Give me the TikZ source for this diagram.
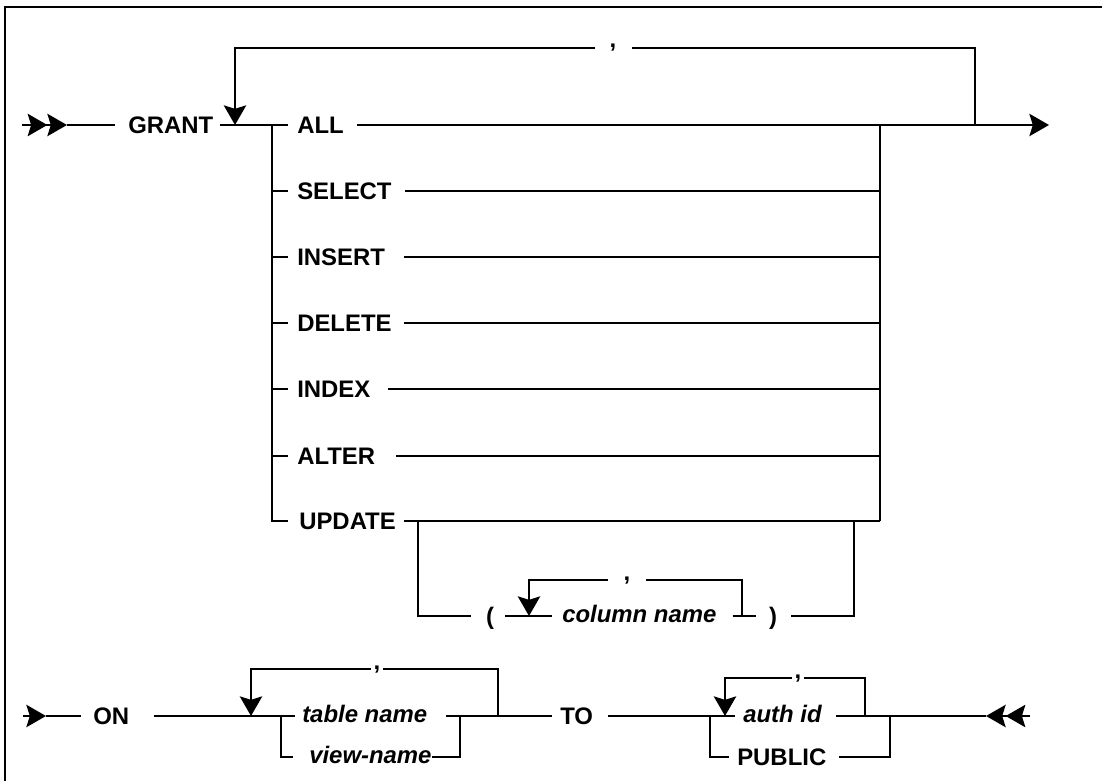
\documentclass[tikz,border=0pt]{standalone}
\usepackage{fontspec}
\setmainfont{Liberation Sans}
\usetikzlibrary{arrows.meta, positioning, calc}
\newcommand{\kwfont}{\fontsize{17}{20}\selectfont\bfseries}
\newcommand{\varfont}{\fontsize{17}{20}\selectfont\bfseries\itshape}
\tikzset{
  kw/.style={font=\kwfont, inner sep=0pt, text height=12.2pt, text depth=0pt, anchor=west},
  var/.style={font=\varfont, inner sep=0pt, text height=8.8pt, text depth=0pt, anchor=west},
  sepmark/.style={font=\kwfont, fill=white, inner ysep=0pt, inner xsep=0pt,
    text height=3pt, text depth=3pt},
  rail/.style={line width=1pt},
  tip/.style={-{Stealth[length=14pt, width=16pt, inset=2.5pt]}, line width=1pt},
  dbltip/.style={-{Stealth[length=14pt, width=16pt, inset=2.5pt, sep=0pt]
    Stealth[length=14pt, width=16pt, inset=2.5pt]}, line width=1pt},
  frame/.style={line width=1.2pt}
}

\begin{document}
\begin{tikzpicture}[x=0.025cm, y=-0.025cm]
  \useasboundingbox (0,0) rectangle (1102,781);
  \draw[frame] (5,781) -- (5,7) -- (1102,7);

  % GRANT ... privileges
  \coordinate (in1) at (22,125);
  \coordinate (in2) at (67,125);
  \draw[dbltip] (in1) -- (in2);
  \node[kw] (grant) at (128,125) {GRANT};
  \draw[rail] (in2) -- ($(grant.west)+(-13,0)$);
  \node[kw] (all) at (297,125) {ALL};
  \draw[rail] ($(grant.east)+(6,0)$) -- ($(all.west)+(-9,0)$);
  \draw[tip] ($(all.east)+(13,0)$) -- (1049,125);
  \draw[tip] (975,125) -- (975,48) -- (235,48) -- (235,125);
  \node[sepmark, minimum width=0.925cm] (comma1) at (613,48) {,};

  \foreach \nm/\txt/\y/\g in {select/SELECT/191/13, insert/INSERT/257/19,
      delete/DELETE/323/12, index/INDEX/389/17, alter/ALTER/456/21}{
    \node[kw] (\nm) at (297,\y) {\txt};
    \draw[rail] (272,\y) -- ($(\nm.west)+(-9,0)$);
    \draw[rail] ($(\nm.east)+(\g,0)$) -- (880,\y);
  }
  \node[kw] (update) at (299,521) {UPDATE};
  \draw[rail] (272,125) -- (272,521) -- ($(update.west)+(-11,0)$);
  \draw[rail] ($(update.east)+(8,0)$) -- (880,521);
  \draw[rail] (880,125) -- (880,521);

  % column list
  \node[kw, anchor=center] (lpar) at (490,616) {(};
  \node[var] (colname) at (562,616) {column name};
  \node[kw, anchor=center] (rpar) at (773,616) {)};
  \draw[rail] (418,521) -- (418,616) -- ($(lpar.west)+(-15,0)$);
  \draw[rail] ($(lpar.east)+(11,0)$) -- ($(colname.west)+(-10,0)$);
  \draw[tip] (742,616) -- (742,580) -- (529,580) -- (529,616);
  \node[sepmark, minimum width=0.95cm] (comma2) at (627,580) {,};
  \draw[rail] ($(colname.east)+(16,0)$) -- ($(rpar.west)+(-13,0)$);
  \draw[rail] ($(rpar.east)+(14,0)$) -- (854,616) -- (854,521);

  % ON ... TO ...
  \coordinate (on-in) at (23,716);
  \coordinate (on-tip) at (46,716);
  \draw[tip] (on-in) -- (on-tip);
  \node[kw] (on) at (93,716) {ON};
  \draw[rail] (on-tip) -- ($(on.west)+(-12,0)$);
  \node[var] (tname) at (302,716) {table name};
  \draw[rail] ($(on.east)+(25,0)$) -- ($(tname.west)+(-7,0)$);
  \draw[tip] (498,716) -- (498,669) -- (251,669) -- (251,716);
  \node[sepmark, minimum width=0.28cm] (comma3) at (377,669) {,};
  \node[var] (vname) at (309,757) {view-name};
  \draw[rail] (281,716) -- (281,757) -- ($(vname.west)+(-16,0)$);
  \draw[rail] (vname.east) -- (460,757) -- (460,716);

  \node[kw] (to) at (560,716) {TO};
  \draw[rail] ($(tname.east)+(19,0)$) -- ($(to.west)+(-8,0)$);
  \node[var] (auth) at (743,716) {auth id};
  \draw[rail] ($(to.east)+(15,0)$) -- ($(auth.west)+(-8,0)$);
  \draw[tip] (865,716) -- (865,678) -- (725,678) -- (725,716);
  \node[sepmark, minimum width=0.3cm] (comma4) at (798,678) {,};
  \node[kw] (public) at (737,757) {PUBLIC};
  \draw[rail] (710,716) -- (710,757) -- ($(public.west)+(-8,0)$);
  \draw[rail] ($(public.east)+(12,0)$) -- (890,757) -- (890,716);

  \coordinate (out-tip) at (986,716);
  \coordinate (out-end) at (1030,716);
  \draw[rail] ($(auth.east)+(14,0)$) -- (out-tip);
  \draw[dbltip] (out-end) -- (out-tip);
\end{tikzpicture}
\end{document}
